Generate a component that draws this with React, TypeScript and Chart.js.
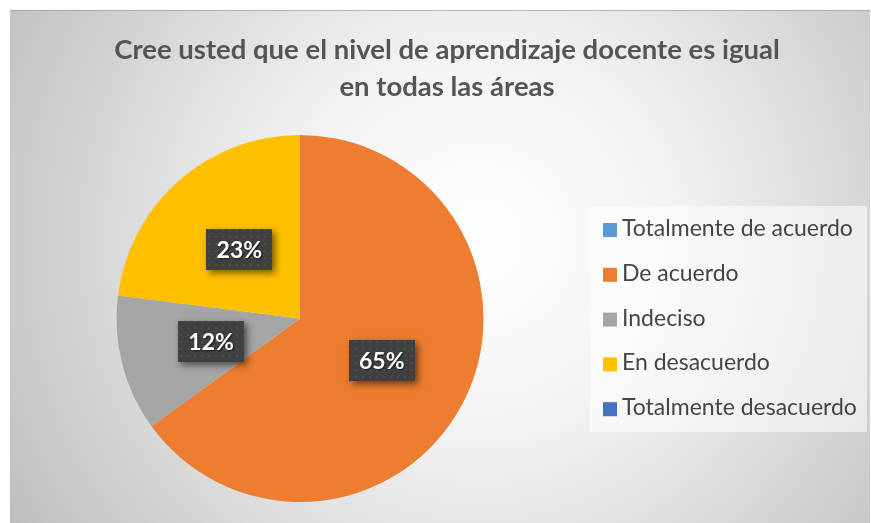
import React, { useEffect, useRef } from "react";
import { Chart, registerables } from "chart.js";

Chart.register(...registerables);

const titleLines = [
  "Cree usted que el nivel de aprendizaje docente es igual",
  "en todas las áreas",
];
const categories = [
  "Totalmente de acuerdo",
  "De acuerdo",
  "Indeciso",
  "En desacuerdo",
  "Totalmente desacuerdo",
];
const percentages = [0, 65, 12, 23, 0];
const sliceColors = ["#5B9BD5", "#ED7D31", "#A5A5A5", "#FFC000", "#4472C4"];

const W = 860;
const H = 513;

function makePattern(ctx: CanvasRenderingContext2D) {
  const c = document.createElement("canvas");
  c.width = 7;
  c.height = 7;
  const p = c.getContext("2d")!;
  p.fillStyle = "#404040";
  p.fillRect(0, 0, 7, 7);
  p.fillStyle = "#4d4d4d";
  p.fillRect(2, 2, 2, 2);
  return ctx.createPattern(c, "repeat");
}

const backgroundPlugin = {
  id: "bgGradient",
  beforeDraw(chart: any) {
    const ctx = chart.ctx as CanvasRenderingContext2D;
    ctx.save();
    const g = ctx.createRadialGradient(470, 230, 0, 470, 230, 560);
    g.addColorStop(0, "#ffffff");
    g.addColorStop(0.35, "#f2f2f2");
    g.addColorStop(1, "#bdbdbd");
    ctx.fillStyle = g;
    ctx.fillRect(0, 0, chart.width, chart.height);
    ctx.strokeStyle = "rgba(150,150,150,0.6)";
    ctx.lineWidth = 1;
    ctx.beginPath();
    ctx.moveTo(0, 0.5);
    ctx.lineTo(chart.width, 0.5);
    ctx.stroke();
    ctx.restore();
  },
};

const titleLegendPlugin = {
  id: "titleLegend",
  afterDraw(chart: any) {
    const ctx = chart.ctx as CanvasRenderingContext2D;
    ctx.save();
    // title
    ctx.fillStyle = "#555555";
    ctx.font = "bold 27.5px Lato";
    ctx.textAlign = "center";
    ctx.textBaseline = "alphabetic";
    ctx.fillText(titleLines[0], 437, 49);
    ctx.fillText(titleLines[1], 437, 86);
    // legend box
    ctx.fillStyle = "rgba(255,255,255,0.55)";
    ctx.fillRect(580, 196, 277, 226);
    ctx.font = "23px Lato";
    ctx.textAlign = "left";
    categories.forEach((label, i) => {
      const base = 226 + i * 44.8;
      ctx.fillStyle = sliceColors[i];
      ctx.fillRect(593, base - 13, 14, 14);
      ctx.fillStyle = "#454545";
      ctx.fillText(label, 612, base);
    });
    ctx.restore();
  },
};

const labelPlugin = {
  id: "boxLabels",
  afterDatasetsDraw(chart: any) {
    const ctx = chart.ctx as CanvasRenderingContext2D;
    const meta = chart.getDatasetMeta(0);
    const pattern = makePattern(ctx);
    ctx.save();
    ctx.font = "bold 23px Lato";
    meta.data.forEach((arc: any, i: number) => {
      const v = percentages[i];
      if (!v) return;
      const pos = arc.tooltipPosition();
      const text = `${v}%`;
      const tw = ctx.measureText(text).width;
      const bw = Math.round(tw + 20);
      const bh = 41;
      const x = Math.round(pos.x - bw / 2);
      const y = Math.round(pos.y - bh / 2);
      ctx.save();
      ctx.shadowColor = "rgba(0,0,0,0.55)";
      ctx.shadowBlur = 7;
      ctx.shadowOffsetX = 3;
      ctx.shadowOffsetY = 3;
      ctx.fillStyle = "#404040";
      ctx.fillRect(x, y, bw, bh);
      ctx.restore();
      ctx.fillStyle = pattern || "#404040";
      ctx.fillRect(x, y, bw, bh);
      ctx.save();
      ctx.shadowColor = "rgba(0,0,0,0.6)";
      ctx.shadowBlur = 2;
      ctx.shadowOffsetX = 1;
      ctx.shadowOffsetY = 1;
      ctx.fillStyle = "#ffffff";
      ctx.textAlign = "center";
      ctx.textBaseline = "middle";
      ctx.fillText(text, pos.x, pos.y + 1);
      ctx.restore();
    });
    ctx.restore();
  },
};

export default function App() {
  const ref = useRef<HTMLCanvasElement>(null);
  useEffect(() => {
    const chart = new Chart(ref.current!, {
      type: "pie",
      data: {
        labels: categories,
        datasets: [
          {
            data: percentages,
            backgroundColor: sliceColors,
            borderWidth: 0,
          },
        ],
      },
      options: {
        animation: false,
        responsive: false,
        layout: { padding: { left: 12, right: 292, top: 125, bottom: 21 } },
        plugins: {
          legend: { display: false },
          title: { display: false },
          tooltip: { enabled: false },
        },
      },
      plugins: [backgroundPlugin, titleLegendPlugin, labelPlugin],
    });
    return () => chart.destroy();
  }, []);
  return (
    <div style={{ position: "absolute", left: 10, top: 10, width: W, height: H }}>
      <canvas ref={ref} width={W} height={H} style={{ width: W, height: H, display: "block" }} />
    </div>
  );
}
